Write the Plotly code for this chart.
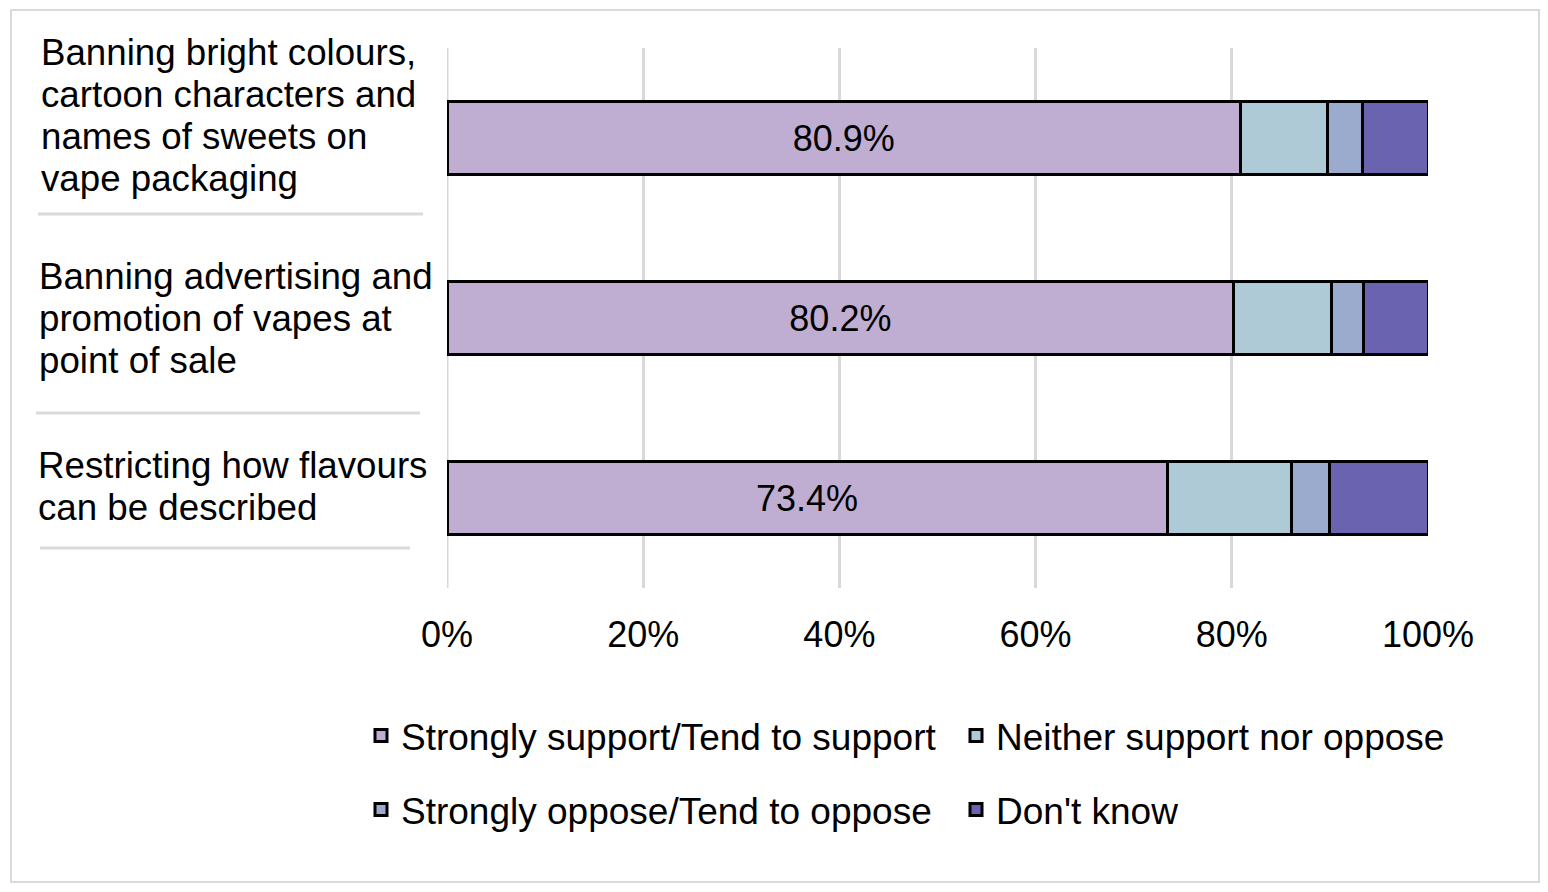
import plotly.graph_objects as go

# ---- data ----
categories = [
    "Banning bright colours, cartoon characters and names of sweets on vape packaging",
    "Banning advertising and promotion of vapes at point of sale",
    "Restricting how flavours can be described",
]
category_lines = [
    ["Banning bright colours,", "cartoon characters and", "names of sweets on", "vape packaging"],
    ["Banning advertising and", "promotion of vapes at", "point of sale"],
    ["Restricting how flavours", "can be described"],
]
series_names = [
    "Strongly support/Tend to support",
    "Neither support nor oppose",
    "Strongly oppose/Tend to oppose",
    "Don't know",
]
support = [80.9, 80.2, 73.4]
neither = [8.9, 10.0, 12.7]
oppose = [3.5, 3.2, 3.9]
dont_know = [6.7, 6.6, 10.0]
x_tick_vals = [0, 20, 40, 60, 80, 100]
x_tick_text = ["0%", "20%", "40%", "60%", "80%", "100%"]

# ---- style ----
colors = ["#BFAED2", "#AECAD6", "#9AABCD", "#6A63AF"]
FONT = "Arial, Liberation Sans, sans-serif"
FS = 36
GRID = "#D9D9D9"

OFF = 8  # page body margin
W, H = 1548, 892
L, T = 439, 40
pw, ph = 981, 540
R, B = W - L - pw, H - T - ph


def px_x(p):
    return (p - OFF - L) / pw


def px_y(p):
    return (H - B - (p - OFF)) / ph


fig = go.Figure()
all_series = [support, neither, oppose, dont_know]
legend_ids = ["legend", "legend", "legend2", "legend2"]
for i, (name, vals) in enumerate(zip(series_names, all_series)):
    fig.add_trace(go.Bar(
        y=categories, x=vals, name=name, orientation="h",
        marker=dict(color=colors[i], line=dict(color="black", width=3)),
        text=[f"{v:.1f}%" for v in vals] if i == 0 else None,
        textposition="inside" if i == 0 else "none",
        insidetextanchor="middle",
        textfont=dict(family=FONT, size=FS, color="black"),
        constraintext="none",
        legend=legend_ids[i],
        hoverinfo="x+name",
    ))

# category labels (left aligned, multi-line)
block_offsets = [-23, 0, -11.5]
label_left = [39, 37, 36]
line_pitch = 42
annotations = []
for cat, lines, off, lx in zip(categories, category_lines, block_offsets, label_left):
    n = len(lines)
    for j, line in enumerate(lines):
        screen_off = off + (j - (n - 1) / 2) * line_pitch
        annotations.append(dict(
            x=px_x(lx), xref="paper", xanchor="left",
            y=cat, yref="y", yanchor="middle", yshift=-screen_off,
            text=line, showarrow=False, align="left",
            font=dict(family=FONT, size=36.7, color="black"),
        ))

shapes = []
# separator lines under category labels
for (x0, x1, yy) in [(38, 423, 214), (36, 420, 413), (40, 410, 548)]:
    shapes.append(dict(type="line", xref="paper", yref="paper",
                       x0=px_x(x0), x1=px_x(x1), y0=px_y(yy), y1=px_y(yy),
                       line=dict(color=GRID, width=3)))
# outer chart border
shapes.append(dict(type="rect", xref="paper", yref="paper",
                   x0=px_x(11), x1=px_x(1539), y0=px_y(882), y1=px_y(10),
                   line=dict(color=GRID, width=2), layer="below"))

leg_common = dict(
    orientation="h", xanchor="left", yanchor="middle",
    font=dict(family=FONT, size=37, color="black"),
    bgcolor="rgba(0,0,0,0)", borderwidth=0,
    entrywidth=550, entrywidthmode="pixels", traceorder="normal",
)

fig.update_layout(
    width=W, height=H,
    margin=dict(l=L, r=R, t=T, b=B, autoexpand=False),
    barmode="stack", bargap=0.595,
    plot_bgcolor="white", paper_bgcolor="white",
    font=dict(family=FONT, size=FS, color="black"),
    xaxis=dict(range=[0, 100], tickvals=x_tick_vals, ticktext=x_tick_text,
               showgrid=True, gridcolor=GRID, gridwidth=3,
               zeroline=False, showline=False, ticks="",
               ticklabelstandoff=22,
               tickfont=dict(family=FONT, size=FS, color="black"),
               fixedrange=True),
    yaxis=dict(autorange="reversed", showticklabels=False, showgrid=False,
               zeroline=False, showline=False, ticks="", fixedrange=True),
    legend=dict(x=px_x(361), y=px_y(736), **leg_common),
    legend2=dict(x=px_x(361), y=px_y(810), **leg_common),
    annotations=annotations,
    shapes=shapes,
)
# draw 0% line as gridline too
fig.add_shape(type="line", xref="x", yref="paper", x0=0, x1=0, y0=0, y1=1,
              line=dict(color=GRID, width=3), layer="below")

fig.write_html("out.html")
